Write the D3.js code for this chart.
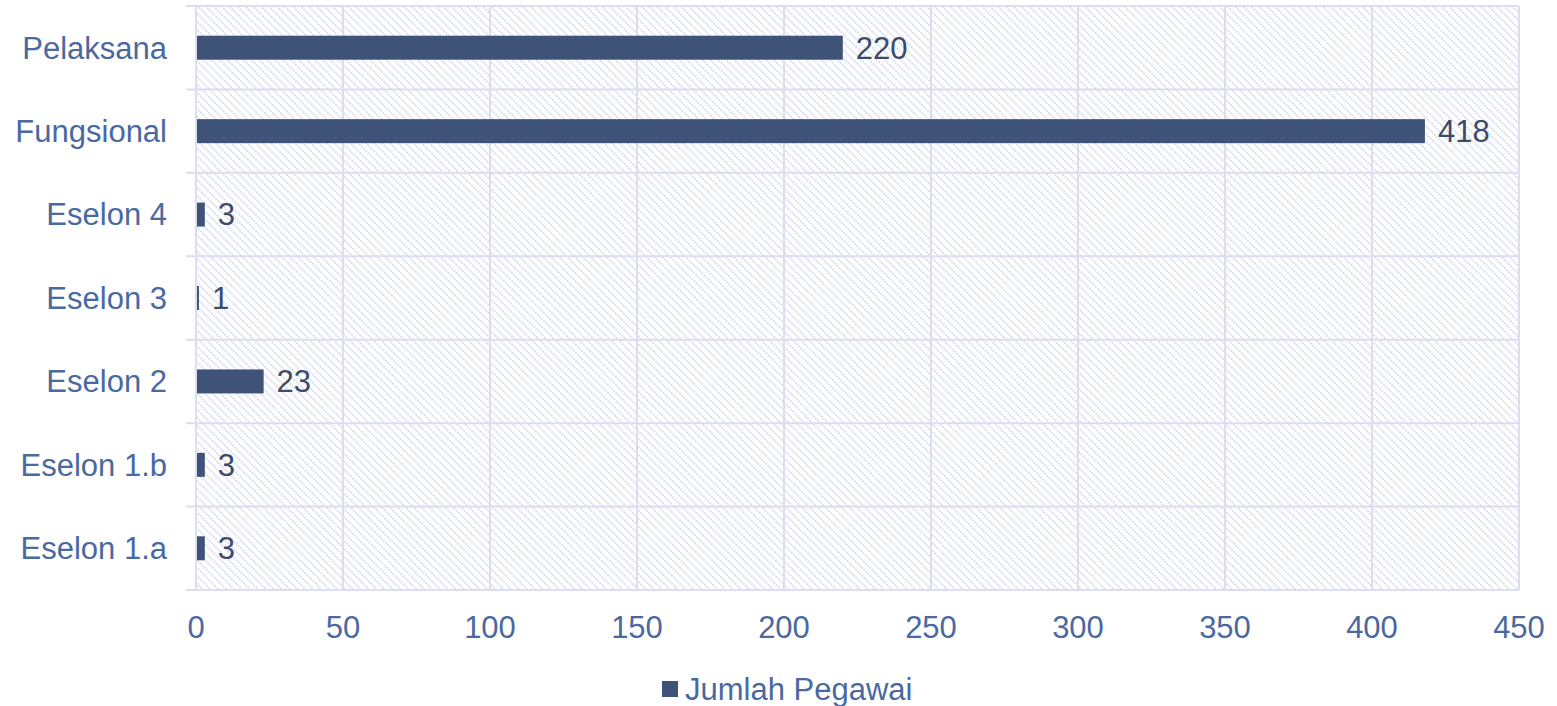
<!DOCTYPE html>
<html>
<head>
<meta charset="utf-8">
<script src="https://cdn.jsdelivr.net/npm/d3@7"></script>
<style>
  body { margin: 0; background: #fff; }
  text { font-family: "Liberation Sans", Arial, sans-serif; }
</style>
</head>
<body>
<div id="chart"></div>
<script>
// data
const categories = ["Pelaksana", "Fungsional", "Eselon 4", "Eselon 3", "Eselon 2", "Eselon 1.b", "Eselon 1.a"];
const values = [220, 418, 3, 1, 23, 3, 3];
const xTicks = [0, 50, 100, 150, 200, 250, 300, 350, 400, 450];
const seriesName = "Jumlah Pegawai";

const W = 1557, H = 706;
const margin = { top: 6, right: 38, bottom: 116, left: 196 };
const width = W - margin.left - margin.right;
const height = H - margin.top - margin.bottom;
const fs = 31;

const svg = d3.select("#chart").append("svg").attr("width", W).attr("height", H);

// hatch pattern for plot background (lines running top-left to bottom-right)
const defs = svg.append("defs");
const pat = defs.append("pattern")
  .attr("id", "hatch")
  .attr("patternUnits", "userSpaceOnUse")
  .attr("width", 5.6).attr("height", 6)
  .attr("patternTransform", "rotate(-45)");
pat.append("line")
  .attr("x1", 1).attr("y1", 0).attr("x2", 1).attr("y2", 6)
  .attr("stroke", "#d3d8ee").attr("stroke-width", 1.6)
  .attr("stroke-dasharray", "2,1");

const g = svg.append("g").attr("transform", `translate(${margin.left},${margin.top})`);

const x = d3.scaleLinear().domain([0, 450]).range([0, width]);
const y = d3.scaleBand().domain(categories).range([0, height]).paddingInner(0).paddingOuter(0);

g.append("rect").attr("width", width).attr("height", height).attr("fill", "url(#hatch)");

// vertical grid lines
g.selectAll(".vgrid").data(xTicks).join("line")
  .attr("class", "vgrid")
  .attr("x1", d => x(d)).attr("x2", d => x(d))
  .attr("y1", 0).attr("y2", height)
  .attr("stroke", "#dadeee").attr("stroke-width", 2);

// horizontal band boundaries (with tick marks to the left)
const bounds = categories.map(c => y(c)).concat([height]);
g.selectAll(".hgrid").data(bounds).join("line")
  .attr("class", "hgrid")
  .attr("x1", -10).attr("x2", width)
  .attr("y1", d => d).attr("y2", d => d)
  .attr("stroke", "#dadeee").attr("stroke-width", 2);

// bars
const barH = 24;
g.selectAll(".bar").data(categories).join("rect")
  .attr("class", "bar")
  .attr("x", x(0) + 1)
  .attr("y", d => y(d) + y.bandwidth() / 2 - barH / 2)
  .attr("width", (d, i) => Math.max(0, x(values[i]) - x(0) - 1))
  .attr("height", barH)
  .attr("fill", "#3f5378");

// data labels
g.selectAll(".lbl").data(categories).join("text")
  .attr("class", "lbl")
  .attr("x", (d, i) => x(values[i]) + 13)
  .attr("y", d => y(d) + y.bandwidth() / 2)
  .attr("dy", "0.35em")
  .attr("font-size", fs)
  .attr("fill", "#3d4b6b")
  .text((d, i) => values[i]);

// category labels
g.selectAll(".cat").data(categories).join("text")
  .attr("class", "cat")
  .attr("x", -29)
  .attr("y", d => y(d) + y.bandwidth() / 2)
  .attr("dy", "0.35em")
  .attr("text-anchor", "end")
  .attr("font-size", fs)
  .attr("fill", "#4a69a0")
  .text(d => d);

// x tick labels
g.selectAll(".xt").data(xTicks).join("text")
  .attr("class", "xt")
  .attr("x", d => x(d))
  .attr("y", height + 37)
  .attr("dy", "0.35em")
  .attr("text-anchor", "middle")
  .attr("font-size", fs)
  .attr("fill", "#4a69a0")
  .text(d => d);

// legend
const leg = svg.append("g").attr("transform", `translate(662, 689)`);
leg.append("rect").attr("x", 0).attr("y", -8).attr("width", 16).attr("height", 16).attr("fill", "#3f5378");
leg.append("text").attr("x", 23).attr("y", 0).attr("dy", "0.35em")
  .attr("font-size", fs).attr("fill", "#4a69a0").text(seriesName);
</script>
</body>
</html>
